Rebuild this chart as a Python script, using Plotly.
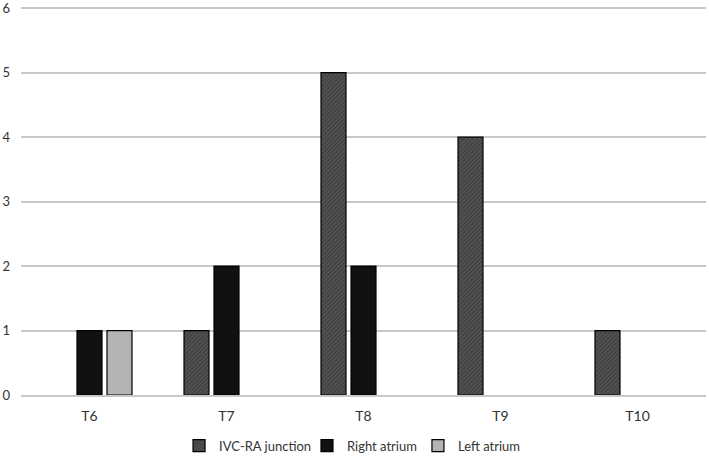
import plotly.graph_objects as go

categories = ["T6", "T7", "T8", "T9", "T10"]
ivc_ra = [None, 1, 5, 4, 1]
right_atrium = [1, 2, 2, None, None]
left_atrium = [1, None, None, None, None]
y_ticks = [0, 1, 2, 3, 4, 5, 6]

FONT = "Lato, Open Sans, sans-serif"

fig = go.Figure()
fig.add_trace(go.Bar(
    name="IVC-RA junction", x=categories, y=ivc_ra, legend="legend",
    marker=dict(color="#4a4a4a", line=dict(color="#000000", width=1.2),
                pattern=dict(shape="/", fgcolor="#262626", bgcolor="#555555",
                             size=3, solidity=0.45)),
))
fig.add_trace(go.Bar(
    name="Right atrium", x=categories, y=right_atrium, legend="legend2",
    marker=dict(color="#111111", line=dict(color="#000000", width=1.2)),
))
fig.add_trace(go.Bar(
    name="Left atrium", x=categories, y=left_atrium, legend="legend3",
    marker=dict(color="#b4b4b4", line=dict(color="#000000", width=1.2)),
))

leg_common = dict(orientation="h", y=-0.13, yanchor="middle", xanchor="left",
                  font=dict(family=FONT, size=13, color="#333333"), itemwidth=30,
                  bgcolor="rgba(0,0,0,0)")

fig.update_layout(
    width=709, height=457,
    barmode="group", bargap=0.343, bargroupgap=0.167,
    plot_bgcolor="white", paper_bgcolor="white",
    margin=dict(l=21, r=3, t=5, b=62, autoexpand=False),
    font=dict(family=FONT, size=12, color="#333333"),
    showlegend=True,
    legend=dict(x=0.2307, **leg_common),
    legend2=dict(x=0.4175, **leg_common),
    legend3=dict(x=0.5795, **leg_common),
    xaxis=dict(showgrid=False, showline=True, linecolor="#c8c8c8", linewidth=1.5,
               ticks="", tickfont=dict(size=14), fixedrange=True, automargin=False,
               ticklabelstandoff=7),
    yaxis=dict(range=[0, 6.05], tickvals=y_ticks, showgrid=True, gridcolor="#c8c8c8",
               gridwidth=1.5, zeroline=False, showline=False, ticks="",
               tickfont=dict(size=13), ticklabelstandoff=10, automargin=False,
               ticklabeloverflow="allow", fixedrange=True),
)

fig.write_html("out.html", config={"displayModeBar": False},
               post_script="document.body.style.margin='0';")
